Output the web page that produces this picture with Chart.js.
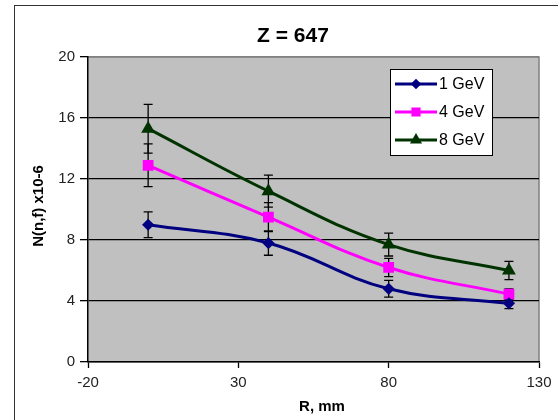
<!DOCTYPE html>
<html>
<head>
<meta charset="utf-8">
<script src="https://cdn.jsdelivr.net/npm/chart.js@4/dist/chart.umd.min.js"></script>
<style>
  body { margin: 0; background: #fff; }
  canvas { display: block; }
</style>
</head>
<body>
<canvas id="chart" width="558" height="420"></canvas>
<script>
// Data
const radii = [0, 40, 80, 120];              // R, mm
const gev1 = [9.0, 7.8, 4.8, 3.85];
const gev1Err = [0.85, 0.8, 0.55, 0.35];
const gev4 = [12.9, 9.5, 6.2, 4.45];
const gev4Err = [1.4, 0.95, 0.6, 0.35];
const gev8 = [15.3, 11.2, 7.7, 6.0];
const gev8Err = [1.6, 1.05, 0.75, 0.6];
const seriesLabels = ['1 GeV', '4 GeV', '8 GeV'];

const fontFamily = '"Liberation Sans", Arial, sans-serif';
const toPoints = vals => vals.map((v, i) => ({ x: radii[i], y: v }));

// grey plot area, grey top/right edge, outer frame
const plotBackground = {
    id: 'plotBackground',
    beforeDraw(chart) {
        const { ctx, chartArea: a } = chart;
        ctx.save();
        ctx.fillStyle = '#c0c0c0';
        ctx.fillRect(a.left, a.top, a.right - a.left, a.bottom - a.top);
        ctx.strokeStyle = '#808080';
        ctx.lineWidth = 1.5;
        ctx.beginPath();
        ctx.moveTo(a.left, a.top);
        ctx.lineTo(a.right, a.top);
        ctx.lineTo(a.right, a.bottom);
        ctx.stroke();
        ctx.strokeStyle = '#333';
        ctx.lineWidth = 1;
        ctx.strokeRect(14.5, 5.5, 700, 600);
        ctx.restore();
    }
};

// vertical error bars with caps
const errorBars = {
    id: 'errorBars',
    beforeDatasetsDraw(chart) {
        const { ctx } = chart;
        const xs = chart.scales.x, ys = chart.scales.y;
        ctx.save();
        ctx.strokeStyle = '#000';
        ctx.lineWidth = 1.3;
        chart.data.datasets.forEach(ds => {
            ds.data.forEach((p, i) => {
                const e = ds.errors[i];
                const px = xs.getPixelForValue(p.x);
                const top = ys.getPixelForValue(p.y + e);
                const bot = ys.getPixelForValue(p.y - e);
                ctx.beginPath();
                ctx.moveTo(px, top); ctx.lineTo(px, bot);
                ctx.moveTo(px - 4.5, top); ctx.lineTo(px + 4.5, top);
                ctx.moveTo(px - 4.5, bot); ctx.lineTo(px + 4.5, bot);
                ctx.stroke();
            });
        });
        ctx.restore();
    }
};

// title, axis titles and boxed legend
const labelsPlugin = {
    id: 'labelsPlugin',
    afterDraw(chart) {
        const { ctx } = chart;
        ctx.save();
        ctx.fillStyle = '#000';
        ctx.textAlign = 'center';
        ctx.textBaseline = 'middle';
        ctx.font = 'bold 21px ' + fontFamily;
        ctx.fillText('Z = 647', 293, 36);
        ctx.font = 'bold 15px ' + fontFamily;
        ctx.fillText('R, mm', 322, 407);
        ctx.save();
        ctx.translate(39, 206);
        ctx.rotate(-Math.PI / 2);
        ctx.fillText('N(n,f) x10-6', 0, 0);
        ctx.restore();

        // legend box
        ctx.fillStyle = '#fff';
        ctx.fillRect(390, 69, 102, 86);
        ctx.strokeStyle = '#000';
        ctx.lineWidth = 1;
        ctx.strokeRect(390.5, 69.5, 102, 86);
        ctx.textAlign = 'left';
        ctx.font = '16px ' + fontFamily;
        chart.data.datasets.forEach((ds, i) => {
            const y = 84 + i * 28;
            ctx.strokeStyle = ds.borderColor;
            ctx.lineWidth = 3;
            ctx.beginPath();
            ctx.moveTo(395, y); ctx.lineTo(437, y);
            ctx.stroke();
            ctx.fillStyle = ds.borderColor;
            Chart.helpers.drawPoint(ctx, {
                pointStyle: ds.pointStyle, radius: ds.pointRadius * 0.8, rotation: 0, borderWidth: 1
            }, 416, y);
            ctx.fillStyle = '#000';
            ctx.fillText(seriesLabels[i], 439, y + 1);
        });
        ctx.restore();
    }
};

const makeSet = (i, vals, errs, color, style, r) => ({
    label: seriesLabels[i],
    data: toPoints(vals),
    errors: errs,
    borderColor: color,
    backgroundColor: color,
    pointBackgroundColor: color,
    pointBorderColor: color,
    pointStyle: style,
    pointRadius: r,
    borderWidth: 3,
    tension: 0.4
});

new Chart(document.getElementById('chart'), {
    type: 'line',
    data: {
        datasets: [
            makeSet(0, gev1, gev1Err, '#000080', 'rectRot', 4),
            makeSet(1, gev4, gev4Err, '#ff00ff', 'rect', 5.5),
            makeSet(2, gev8, gev8Err, '#003300', 'triangle', 5)
        ]
    },
    options: {
        responsive: false,
        animation: false,
        layout: { padding: { top: 57, right: 19, left: 0, bottom: 0 } },
        plugins: {
            legend: { display: false },
            title: { display: false },
            tooltip: { enabled: false }
        },
        scales: {
            x: {
                type: 'linear',
                min: -20, max: 130,
                afterFit: s => { s.height = 58; },
                ticks: { stepSize: 50, color: '#222', padding: 6, font: { size: 15, family: fontFamily } },
                grid: { drawOnChartArea: false, tickColor: '#000', tickLength: 6, tickWidth: 1.3 },
                border: { color: '#000', width: 1.5 }
            },
            y: {
                min: 0, max: 20,
                afterFit: s => { s.width = 88; },
                ticks: { stepSize: 4, color: '#222', padding: 5, font: { size: 15, family: fontFamily } },
                grid: {
                    color: c => (c.tick && c.tick.value === 20 ? '#808080' : '#000'),
                    tickColor: '#000', tickLength: 8, lineWidth: 1.3
                },
                border: { color: '#000', width: 1.5 }
            }
        }
    },
    plugins: [plotBackground, errorBars, labelsPlugin]
});
</script>
</body>
</html>
